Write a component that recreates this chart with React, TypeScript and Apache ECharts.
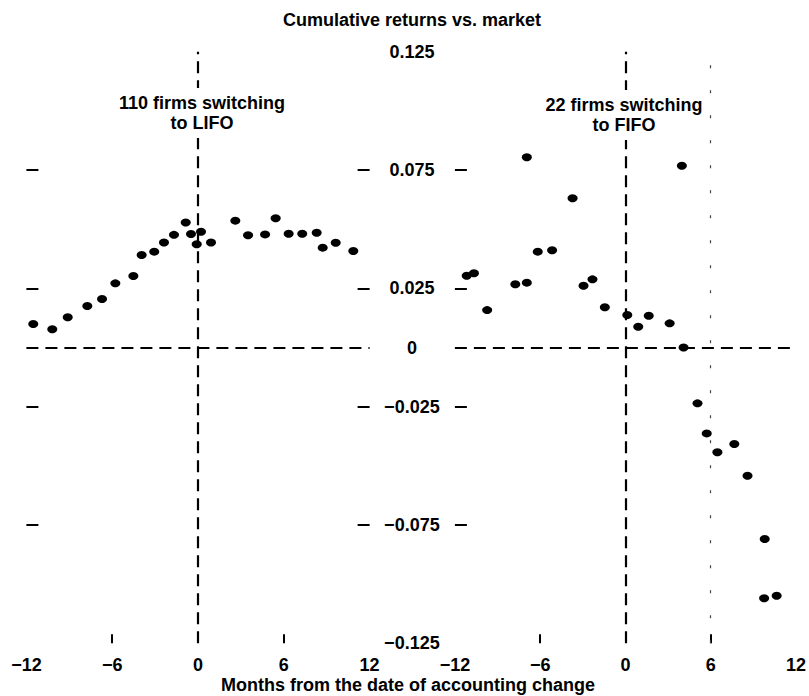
import React, { useEffect, useRef } from "react";
import * as echarts from "echarts";

// 110 firms switching to LIFO (left panel): month offset, cumulative return vs. market
const lifoMonths = [-11.52, -10.19, -9.11, -7.74, -6.71, -5.78, -4.52, -3.94, -3.06, -2.38, -1.68, -0.86, -0.49, 0.21, -0.09, 0.91, 2.61, 3.5, 4.69, 5.43, 6.34, 7.29, 8.3, 8.72, 9.63, 10.86];
const lifoReturns = [0.0099, 0.0077, 0.0128, 0.0175, 0.0205, 0.0271, 0.0302, 0.0391, 0.0405, 0.0444, 0.0476, 0.0528, 0.048, 0.0489, 0.0436, 0.0444, 0.0536, 0.0474, 0.0478, 0.0546, 0.0481, 0.0481, 0.0485, 0.0422, 0.0443, 0.0408];

// 22 firms switching to FIFO (right panel)
const fifoMonths = [-11.17, -10.66, -9.73, -7.75, -6.94, -6.94, -6.17, -5.16, -3.72, -2.95, -2.32, -1.45, 0.13, 0.9, 1.64, 3.11, 3.97, 4.09, 5.07, 5.72, 6.47, 7.66, 8.59, 9.8, 9.76, 10.64];
const fifoReturns = [0.0303, 0.0314, 0.0158, 0.0267, 0.0274, 0.0804, 0.0405, 0.0411, 0.0631, 0.0261, 0.0288, 0.017, 0.0137, 0.0088, 0.0134, 0.0102, 0.0768, 0.0, -0.0236, -0.0363, -0.0443, -0.0408, -0.0542, -0.0809, -0.106, -0.1049];

// axis ticks and labels
const xTickValues = [-6, 6];
const xLabelValues = [-12, -6, 0, 6, 12];
const yTickValues = [-0.075, -0.025, 0.025, 0.075];
const yLabelValues = [0.125, 0.075, 0.025, 0, -0.025, -0.075, -0.125];
const yLabelTexts = ["0.125", "0.075", "0.025", "0", "\u22120.025", "\u22120.075", "\u22120.125"];

const titleText = "Cumulative returns vs. market";
const xAxisTitle = "Months from the date of accounting change";
const leftPanelLabel = "110 firms switching\nto LIFO";
const rightPanelLabel = "22 firms switching\nto FIFO";

const FONT = "'Liberation Sans', Arial, sans-serif";
const INK = "#000";

export default function App() {
  const ref = useRef<HTMLDivElement>(null);

  useEffect(() => {
    if (!ref.current) return;
    const chart = echarts.init(ref.current, null, { renderer: "svg" });

    const gridTop = 51.7;
    const gridHeight = 591.6;
    const gridWidth = 343.2;

    const xAxisBase = (gridIndex: number) => ({
      type: "value",
      gridIndex,
      min: -12,
      max: 12,
      interval: 6,
      axisLine: { show: false, onZero: false },
      splitLine: { show: false },
      axisTick: {
        show: true,
        inside: true,
        length: 9,
        customValues: xTickValues,
        lineStyle: { color: INK, width: 2 },
      },
      axisLabel: {
        show: true,
        margin: 13,
        customValues: xLabelValues,
        color: INK,
        fontFamily: FONT,
        fontWeight: "bold",
        fontSize: 18,
        formatter: (v: number) => (v < 0 ? "\u2212" + Math.abs(v) : String(v)),
      },
    });

    const yAxisBase = (gridIndex: number, position: string, showLabels: boolean) => ({
      type: "value",
      gridIndex,
      position,
      min: -0.125,
      max: 0.125,
      axisLine: { show: false, onZero: false },
      splitLine: { show: false },
      axisTick: {
        show: true,
        inside: true,
        length: 12,
        customValues: yTickValues,
        lineStyle: { color: INK, width: 2 },
      },
      axisLabel: {
        show: showLabels,
        customValues: yLabelValues,
        align: "center",
        margin: 43,
        color: INK,
        fontFamily: FONT,
        fontWeight: "bold",
        fontSize: 18,
        formatter: (v: number) => {
          let best = 0;
          for (let i = 0; i < yLabelValues.length; i++) {
            if (Math.abs(yLabelValues[i] - v) < Math.abs(yLabelValues[best] - v)) best = i;
          }
          return yLabelTexts[best];
        },
      },
    });

    const dashed = { type: [12, 7], color: INK, width: 2.2 };

    const option = {
      animation: false,
      backgroundColor: "#fff",
      grid: [
        { left: 26.4, top: gridTop, width: gridWidth, height: gridHeight },
        { left: 454.9, top: gridTop, width: gridWidth, height: gridHeight },
      ],
      xAxis: [xAxisBase(0), xAxisBase(1)],
      yAxis: [yAxisBase(0, "left", false), yAxisBase(0, "right", false), yAxisBase(1, "left", true)],
      series: [
        {
          type: "scatter",
          xAxisIndex: 0,
          yAxisIndex: 0,
          symbol: "circle",
          symbolSize: [10, 8],
          itemStyle: { color: INK, opacity: 1 },
          data: lifoMonths.map((m, i) => [m, lifoReturns[i]]),
          markLine: {
            silent: true,
            symbol: "none",
            label: { show: false },
            lineStyle: dashed,
            data: [{ xAxis: 0 }, { yAxis: 0 }],
          },
          z: 3,
        },
        {
          type: "scatter",
          xAxisIndex: 1,
          yAxisIndex: 2,
          symbol: "circle",
          symbolSize: [10, 8],
          itemStyle: { color: INK, opacity: 1 },
          data: fifoMonths.map((m, i) => [m, fifoReturns[i]]),
          markLine: {
            silent: true,
            symbol: "none",
            label: { show: false },
            lineStyle: dashed,
            data: [
              { xAxis: 0 },
              { yAxis: 0 },
              { xAxis: 6, lineStyle: { type: [3, 22], color: "#444", width: 1.2 } },
            ],
          },
          z: 3,
        },
      ],
      graphic: [
        {
          type: "text",
          x: 412,
          y: 20,
          z: 100,
          style: {
            text: titleText,
            fill: INK,
            font: `bold 18px ${FONT}`,
            textAlign: "center",
            textVerticalAlign: "middle",
          },
        },
        {
          type: "text",
          x: 408,
          y: 685,
          z: 100,
          style: {
            text: xAxisTitle,
            fill: INK,
            font: `bold 18px ${FONT}`,
            textAlign: "center",
            textVerticalAlign: "middle",
          },
        },
        {
          type: "text",
          x: 202,
          y: 113,
          z: 100,
          style: {
            text: leftPanelLabel,
            fill: INK,
            font: `bold 18px ${FONT}`,
            lineHeight: 20,
            textAlign: "center",
            textVerticalAlign: "middle",
            backgroundColor: "#fff",
            padding: [4, 2, 6, 2],
          },
        },
        {
          type: "text",
          x: 624,
          y: 115,
          z: 100,
          style: {
            text: rightPanelLabel,
            fill: INK,
            font: `bold 18px ${FONT}`,
            lineHeight: 20,
            textAlign: "center",
            textVerticalAlign: "middle",
            backgroundColor: "#fff",
            padding: [4, 2, 6, 2],
          },
        },
      ],
    };

    chart.setOption(option as any);
    return () => chart.dispose();
  }, []);

  return (
    <div
      ref={ref}
      style={{ position: "fixed", left: 0, top: 0, width: 809, height: 696, background: "#fff" }}
    />
  );
}
